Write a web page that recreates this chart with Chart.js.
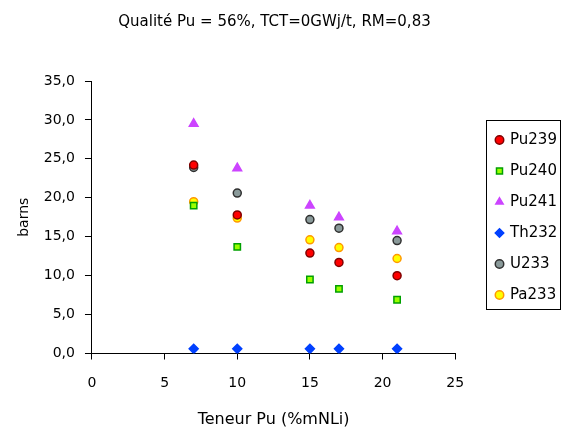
<!DOCTYPE html>
<html>
<head>
<meta charset="utf-8">
<script src="https://cdn.jsdelivr.net/npm/chart.js@4/dist/chart.umd.min.js"></script>
<style>
  body { margin: 0; background: #fff; }
</style>
</head>
<body>
<canvas id="chart" width="571" height="433"></canvas>
<script>
const teneur = [7, 10, 15, 17, 21]
const pu239 = [24.2, 17.8, 12.9, 11.7, 10.0]
const pu240 = [19.0, 13.7, 9.5, 8.3, 6.9]
const pu241 = [29.5, 23.8, 19.0, 17.5, 15.7]
const th232 = [0.6, 0.6, 0.6, 0.6, 0.6]
const u233 = [23.9, 20.6, 17.2, 16.1, 14.5]
const pa233 = [19.5, 17.4, 14.6, 13.6, 12.2]

const toPoints = (vals) => vals.map((v, i) => ({ x: teneur[i], y: v }))
const font = 'DejaVu Sans'

const serie = (label, vals, style, fill, border, radius) => ({
  label: label,
  data: toPoints(vals),
  pointStyle: style,
  backgroundColor: fill,
  borderColor: border,
  borderWidth: 1.5,
  pointRadius: radius,
  showLine: false
})

// move the legend to its place and draw the frame around it
const legendBox = {
  id: 'legendBox',
  beforeDraw: (chart) => {
    const lg = chart.legend
    const w = lg.width, h = lg.height
    lg.left = 480.5
    lg.top = 116.5
    lg.right = lg.left + w
    lg.bottom = lg.top + h
  },
  afterDraw: (chart) => {
    const ctx = chart.ctx
    ctx.save()
    ctx.strokeStyle = '#000'
    ctx.lineWidth = 1
    ctx.strokeRect(486.5, 120.5, 74, 189)
    ctx.restore()
  }
}

new Chart(document.getElementById('chart'), {
  type: 'scatter',
  data: {
    datasets: [
      serie('Pu239', pu239, 'circle', '#ff0000', '#800000', 4),
      serie('Pu240', pu240, 'rect', '#99ff00', '#00a000', 4.5),
      serie('Pu241', pu241, 'triangle', '#cc44ff', '#cc44ff', 5),
      serie('Th232', th232, 'rectRot', '#0040ff', '#0040ff', 4.5),
      serie('U233', u233, 'circle', '#8a9a9a', '#303030', 4),
      serie('Pa233', pa233, 'circle', '#ffff00', '#ff9900', 4)
    ]
  },
  options: {
    responsive: false,
    animation: false,
    layout: { padding: { left: 7, right: 29, top: 4, bottom: 0 } },
    plugins: {
      title: {
        display: true,
        text: 'Qualité Pu = 56%, TCT=0GWj/t, RM=0,83',
        color: '#000',
        font: { family: font, size: 15, weight: 'normal' },
        padding: { top: 9, bottom: 50 }
      },
      legend: {
        position: 'right',
        align: 'start',
        labels: {
          usePointStyle: true,
          boxWidth: 6,
          boxHeight: 6,
          padding: 16,
          color: '#000',
          font: { family: font, size: 15 }
        }
      },
      tooltip: { enabled: false }
    },
    scales: {
      x: {
        type: 'linear',
        min: 0,
        max: 25,
        ticks: { stepSize: 5, color: '#000', font: { family: font, size: 14 }, padding: 15.5 },
        grid: { drawOnChartArea: false, color: '#000', tickLength: 6 },
        border: { color: '#000' },
        title: {
          display: true,
          text: 'Teneur Pu (%mNLi)',
          color: '#000',
          font: { family: font, size: 16 },
          padding: { top: 2.5 }
        }
      },
      y: {
        min: 0,
        max: 35,
        ticks: {
          stepSize: 5,
          color: '#000',
          font: { family: font, size: 14 },
          padding: 10,
          callback: (v) => v.toFixed(1).replace('.', ',')
        },
        grid: { drawOnChartArea: false, color: '#000', tickLength: 7 },
        border: { color: '#000' },
        title: {
          display: true,
          text: 'barns',
          color: '#000',
          font: { family: font, size: 14 },
          padding: { top: 9, bottom: 1 }
        }
      }
    }
  },
  plugins: [legendBox]
})
</script>
</body>
</html>
